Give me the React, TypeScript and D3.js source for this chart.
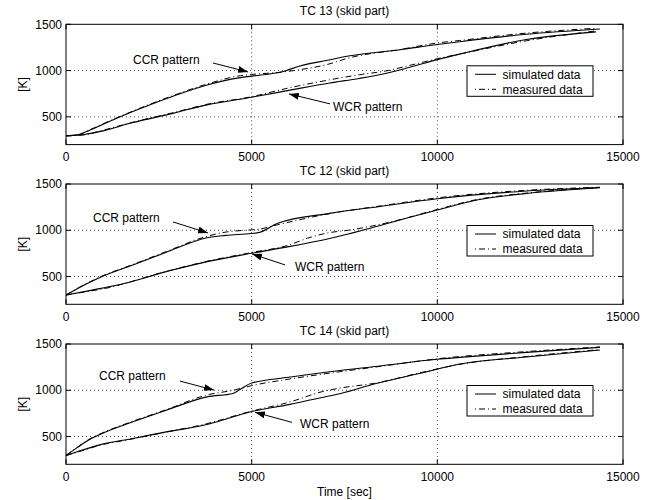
import React, { useEffect, useRef } from 'react';
import * as d3 from 'd3';

const width = 657,
      height = 500;

// plot box (pixels)
const plotLeft = 66, plotRight = 623;
const panelTops = [24.3, 184, 344];
const panelH = 120.3;

const xTicks = [0, 5000, 10000, 15000];
const yTicks = [500, 1000, 1500];
const xDomain = [0, 15000];
const yDomain = [200, 1500];

const titles = ['TC 13 (skid part)', 'TC 12 (skid part)', 'TC 14 (skid part)'];
const legendLabels = ['simulated data', 'measured data'];

// [time sec, temperature K]
const ccrSim13 = [[0,295],[300,305],[650,358],[1000,420],[1800,557],[2900,726],[3800,845],[4700,924],[5000,940],[5850,990],[6300,1050],[7000,1108],[7650,1160],[9000,1225],[10000,1282],[10600,1312],[12400,1392],[14380,1449]];
const ccrMeas13 = [[0,295],[300,302],[650,362],[1000,425],[1800,562],[2900,732],[3800,855],[4700,945],[5000,958],[5850,985],[6300,1010],[7000,1062],[7650,1140],[9000,1228],[10000,1298],[10600,1325],[12400,1405],[14300,1458]];
const wcrSim13 = [[0,295],[500,310],[900,340],[1800,438],[2900,540],[3800,629],[5000,712],[6000,786],[7100,866],[7900,915],[8600,968],[9450,1058],[10000,1118],[10600,1178],[12400,1335],[14270,1418]];
const wcrMeas13 = [[0,295],[500,306],[900,345],[1800,442],[2900,546],[3800,636],[5000,718],[6000,812],[7100,900],[7900,955],[8600,995],[9450,1075],[10000,1128],[10600,1178],[12400,1322],[14300,1430]];

const ccrSim12 = [[0,300],[400,390],[900,488],[1800,625],[2700,762],[3800,920],[4300,945],[5000,965],[5200,975],[5700,1075],[7100,1183],[8500,1260],[10000,1340],[12400,1424],[14380,1462]];
const ccrMeas12 = [[0,300],[400,392],[900,492],[1800,630],[2700,770],[3800,935],[4300,980],[5000,1005],[5200,1012],[5700,1060],[7100,1180],[8500,1265],[10000,1350],[12400,1432],[14380,1465]];
const wcrSim12 = [[0,300],[600,345],[1100,385],[1300,400],[2700,553],[3800,661],[5000,752],[6000,823],[7100,912],[7600,960],[8800,1090],[10000,1219],[11100,1330],[12400,1398],[14380,1460]];
const wcrMeas12 = [[0,300],[600,340],[1100,375],[1300,395],[2700,555],[3800,665],[5000,760],[6000,840],[6500,914],[7100,975],[7600,1000],[8800,1095],[10000,1225],[11100,1335],[12400,1402],[14380,1462]];

const ccrSim14 = [[0,295],[300,380],[600,460],[900,520],[1800,659],[2700,785],[3800,929],[4500,966],[4650,1000],[5000,1078],[6000,1140],[7100,1200],[8500,1265],[10000,1335],[10600,1355],[12400,1410],[14380,1464]];
const ccrMeas14 = [[0,295],[300,382],[600,465],[900,525],[1800,665],[2700,790],[3800,950],[4500,1000],[5000,1050],[6000,1120],[7100,1185],[8500,1260],[10000,1340],[12400,1418],[14380,1468]];
const wcrSim14 = [[0,295],[300,335],[900,410],[1800,479],[2700,550],[3800,630],[4400,700],[5000,770],[6000,845],[6900,922],[7400,966],[8300,1067],[9600,1189],[10600,1283],[12400,1360],[14380,1435]];
const wcrMeas14 = [[0,295],[300,330],[900,404],[1800,475],[2700,548],[3800,640],[5000,775],[6000,870],[6900,985],[7400,1025],[8300,1075],[9600,1195],[10600,1280],[12400,1365],[14380,1440]];

// annotation: text anchor and arrow tail/head in data coords
const panels = [
    { sim: [ccrSim13, wcrSim13], meas: [ccrMeas13, wcrMeas13],
      ccr: { text: [1804, 1115], tail: [3959, 1082], head: [4901, 985] },
      wcr: { text: [7190, 608], tail: [7110, 640], head: [6005, 748] } },
    { sim: [ccrSim12, wcrSim12], meas: [ccrMeas12, wcrMeas12],
      ccr: { text: [727, 1133], tail: [2882, 1090], head: [3824, 971] },
      wcr: { text: [6167, 604], tail: [5898, 626], head: [5009, 744] } },
    { sim: [ccrSim14, wcrSim14], meas: [ccrMeas14, wcrMeas14],
      ccr: { text: [889, 1153], tail: [3070, 1099], head: [3986, 1002] },
      wcr: { text: [6302, 642], tail: [6086, 653], head: [5090, 762] } },
];

const font = '"Liberation Sans", Arial, Helvetica, sans-serif';

const App = () => {
    const ref = useRef<SVGSVGElement>(null);

    useEffect(() => {
        const svg = d3.select(ref.current);
        svg.html('');
        svg.append('rect').attr('width', width).attr('height', height).attr('fill', '#fff');

        svg.append('defs').append('marker')
            .attr('id', 'arrowhead')
            .attr('markerUnits', 'userSpaceOnUse')
            .attr('markerWidth', 10).attr('markerHeight', 7)
            .attr('refX', 10).attr('refY', 3.5)
            .attr('orient', 'auto')
            .append('path').attr('d', 'M0,0 L10,3.5 L0,7 Z').attr('fill', '#000');

        const x = d3.scaleLinear().domain(xDomain).range([plotLeft, plotRight]);

        panels.forEach((p, i) => {
            const top = panelTops[i];
            const bottom = top + panelH;
            const y = d3.scaleLinear().domain(yDomain).range([bottom, top]);
            const g = svg.append('g').style('font-family', font).style('font-size', '12px');

            // grid
            g.selectAll('.vgrid').data(xTicks.slice(1, -1)).enter().append('line')
                .attr('x1', d => x(d)).attr('x2', d => x(d)).attr('y1', top).attr('y2', bottom)
                .attr('stroke', '#000').attr('stroke-width', 0.7).attr('stroke-dasharray', '1,3');
            g.selectAll('.hgrid').data(yTicks.slice(0, -1)).enter().append('line')
                .attr('x1', plotLeft).attr('x2', plotRight).attr('y1', d => y(d)).attr('y2', d => y(d))
                .attr('stroke', '#000').attr('stroke-width', 0.7).attr('stroke-dasharray', '1,3');

            // curves
            const line = d3.line<number[]>().x(d => x(d[0])).y(d => y(d[1])).curve(d3.curveMonotoneX);
            p.sim.forEach(s => g.append('path').attr('d', line(s)).attr('fill', 'none')
                .attr('stroke', '#000').attr('stroke-width', 1.1));
            p.meas.forEach(s => g.append('path').attr('d', line(s)).attr('fill', 'none')
                .attr('stroke', '#000').attr('stroke-width', 1).attr('stroke-dasharray', '6,3,1,3'));

            // box and ticks
            g.append('rect').attr('x', plotLeft).attr('y', top)
                .attr('width', plotRight - plotLeft).attr('height', panelH)
                .attr('fill', 'none').attr('stroke', '#000').attr('stroke-width', 1);
            xTicks.forEach(t => {
                g.append('line').attr('x1', x(t)).attr('x2', x(t)).attr('y1', bottom).attr('y2', bottom - 5).attr('stroke', '#000');
                g.append('line').attr('x1', x(t)).attr('x2', x(t)).attr('y1', top).attr('y2', top + 5).attr('stroke', '#000');
                g.append('text').attr('x', x(t)).attr('y', bottom + 16.4).attr('text-anchor', 'middle').text(t);
            });
            yTicks.forEach(t => {
                g.append('line').attr('x1', plotLeft).attr('x2', plotLeft + 5).attr('y1', y(t)).attr('y2', y(t)).attr('stroke', '#000');
                g.append('line').attr('x1', plotRight).attr('x2', plotRight - 5).attr('y1', y(t)).attr('y2', y(t)).attr('stroke', '#000');
                g.append('text').attr('x', plotLeft - 4).attr('y', y(t)).attr('dy', '0.35em').attr('text-anchor', 'end').text(t);
            });

            // title and y label
            g.append('text').attr('x', (plotLeft + plotRight) / 2).attr('y', top - 9.3)
                .attr('text-anchor', 'middle').text(titles[i]);
            g.append('text').attr('transform', `translate(27,${(top + bottom) / 2}) rotate(-90)`)
                .attr('text-anchor', 'middle').text('[K]');

            // annotations
            [['CCR pattern', p.ccr], ['WCR pattern', p.wcr]].forEach(([label, a]: any) => {
                g.append('text').attr('x', x(a.text[0])).attr('y', y(a.text[1])).attr('dy', '0.35em').text(label);
                g.append('line').attr('x1', x(a.tail[0])).attr('y1', y(a.tail[1]))
                    .attr('x2', x(a.head[0])).attr('y2', y(a.head[1]))
                    .attr('stroke', '#000').attr('stroke-width', 1).attr('marker-end', 'url(#arrowhead)');
            });

            // legend
            const lx = plotLeft + 401, ly = top + 41.5;
            g.append('rect').attr('x', lx).attr('y', ly).attr('width', 126).attr('height', 30.5)
                .attr('fill', '#fff').attr('stroke', '#000').attr('stroke-width', 1);
            legendLabels.forEach((lab, k) => {
                const ry = ly + 8.5 + k * 15;
                g.append('line').attr('x1', lx + 8).attr('x2', lx + 29).attr('y1', ry).attr('y2', ry)
                    .attr('stroke', '#000').attr('stroke-width', 1)
                    .attr('stroke-dasharray', k === 0 ? null : '1,3,6,3');
                g.append('text').attr('x', lx + 35.5).attr('y', ry).attr('dy', '0.35em').text(lab);
            });
        });

        svg.append('text').attr('x', (plotLeft + plotRight) / 2).attr('y', 496)
            .attr('text-anchor', 'middle').style('font-family', font).style('font-size', '12px')
            .text('Time [sec]');
    }, []);

    return (
        <div style={{ position: 'absolute', left: 0, top: 0 }}>
            <svg ref={ref} width={width} height={height} viewBox={`0 0 ${width} ${height}`} />
        </div>
    );
};

export default App;
